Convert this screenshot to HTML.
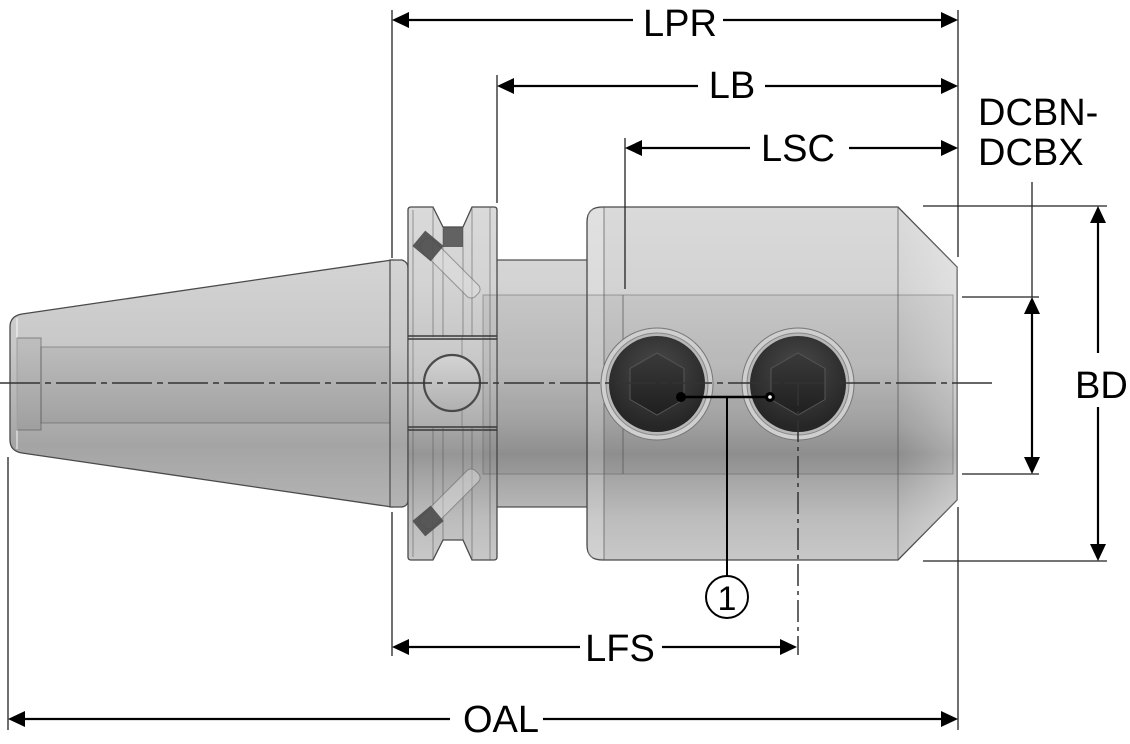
<!DOCTYPE html>
<html><head><meta charset="utf-8"><style>
html,body{margin:0;padding:0;background:#fff;}
svg{display:block;}
text{font-family:"Liberation Sans",sans-serif;fill:#000;}
</style></head><body>
<svg width="1130" height="744" viewBox="0 0 1130 744" xmlns="http://www.w3.org/2000/svg">
<defs>
<linearGradient id="gB" gradientUnits="userSpaceOnUse" x1="0" y1="207" x2="0" y2="560">
<stop offset="0" stop-color="#dadada"/><stop offset="0.22" stop-color="#d3d3d3"/>
<stop offset="0.45" stop-color="#c3c3c3"/><stop offset="0.62" stop-color="#a8a8a8"/>
<stop offset="0.7" stop-color="#969696"/><stop offset="0.77" stop-color="#a6a6a6"/>
<stop offset="0.88" stop-color="#bcbcbc"/><stop offset="1" stop-color="#c8c8c8"/>
</linearGradient>
<linearGradient id="gT" gradientUnits="userSpaceOnUse" x1="0" y1="260" x2="0" y2="507">
<stop offset="0" stop-color="#d4d4d4"/><stop offset="0.35" stop-color="#c8c8c8"/>
<stop offset="0.6" stop-color="#b2b2b2"/><stop offset="0.75" stop-color="#a4a4a4"/>
<stop offset="1" stop-color="#b4b4b4"/>
</linearGradient>
<linearGradient id="gCh" x1="0" y1="0" x2="1" y2="0">
<stop offset="0" stop-color="#fff" stop-opacity="0"/><stop offset="1" stop-color="#fff" stop-opacity="0.3"/>
</linearGradient>
<radialGradient id="gS" cx="0.5" cy="0.35" r="0.6">
<stop offset="0" stop-color="#4a4a4a"/><stop offset="1" stop-color="#262626"/>
</radialGradient>
<linearGradient id="gHex" x1="0" y1="0" x2="0" y2="1">
<stop offset="0" stop-color="#3a3a3a"/><stop offset="1" stop-color="#1f1f1f"/>
</linearGradient>
<linearGradient id="gHole" x1="0" y1="0" x2="0" y2="1">
<stop offset="0" stop-color="#d4d4d4"/><stop offset="1" stop-color="#b0b0b0"/>
</linearGradient>
</defs>

<!-- TAPER -->
<path d="M22,314 L392,260 L392,507 L22,453 Q10,451 10,440 L10,327 Q10,316 22,314 Z" fill="url(#gT)" stroke="#4a4a4a" stroke-width="1.3"/>
<line x1="17" y1="318" x2="17" y2="449" stroke="#fff" stroke-opacity="0.6" stroke-width="1.5"/>
<rect x="17" y="338" width="24" height="92" fill="#000" fill-opacity="0.06" stroke="#555" stroke-opacity="0.6" stroke-width="1"/>
<rect x="41" y="347" width="351" height="76" fill="#000" fill-opacity="0.06" stroke="#555" stroke-opacity="0.5" stroke-width="1"/>
<!-- taper lip -->
<path d="M390,260 L402,260 Q408,262 408,268 L408,500 Q408,506 402,507 L390,507 Z" fill="url(#gT)" stroke="#4a4a4a" stroke-width="1.2"/>

<!-- NECK -->
<rect x="495" y="260" width="100" height="247" fill="url(#gB)" stroke="#4a4a4a" stroke-width="1.2"/>

<!-- FLANGE -->
<path d="M408,210 Q408,207 411,207 L433,207 L443,227 L463,227 L472,207 L494,207 Q497,207 497,210 L497,557 Q497,560 494,560 L472,560 L463,540 L443,540 L433,560 L411,560 Q408,560 408,557 Z" fill="url(#gB)" stroke="#4a4a4a" stroke-width="1.3"/>
<g stroke="#555" stroke-opacity="0.55" stroke-width="1">
<line x1="413" y1="210" x2="413" y2="557"/>
<line x1="433" y1="207" x2="433" y2="337"/><line x1="433" y1="428" x2="433" y2="560"/>
<line x1="443" y1="227" x2="443" y2="337"/><line x1="443" y1="428" x2="443" y2="540"/>
<line x1="463" y1="227" x2="463" y2="337"/><line x1="463" y1="428" x2="463" y2="540"/>
<line x1="472" y1="207" x2="472" y2="337"/><line x1="472" y1="428" x2="472" y2="560"/>
<line x1="490" y1="207" x2="490" y2="560"/>
<line x1="462" y1="337" x2="462" y2="428"/>
</g>
<!-- slot -->
<rect x="408" y="337" width="89" height="91" fill="#fff" fill-opacity="0.08"/>
<g stroke="#3a3a3a" stroke-width="1.5">
<line x1="408" y1="336" x2="497" y2="336"/><line x1="408" y1="339" x2="497" y2="339"/>
<line x1="408" y1="427" x2="497" y2="427"/><line x1="408" y1="430" x2="497" y2="430"/>
</g>
<circle cx="452" cy="383" r="28" fill="url(#gHole)" stroke="#4a4a4a" stroke-width="2.2"/>
<!-- pins -->
<rect x="443" y="227" width="20" height="20" fill="#4e4e4e" fill-opacity="0.85"/>
<g transform="translate(450,268) rotate(45)">
<rect x="-38" y="-8" width="76" height="16" rx="6" fill="#e0e0e0" fill-opacity="0.45" stroke="#666" stroke-opacity="0.6"/>
</g>
<g transform="translate(428,246) rotate(40)">
<rect x="-12" y="-10" width="24" height="20" fill="#4a4a4a" fill-opacity="0.9"/>
</g>
<g transform="translate(450,499) rotate(-45)">
<rect x="-38" y="-8" width="76" height="16" rx="6" fill="#e0e0e0" fill-opacity="0.45" stroke="#666" stroke-opacity="0.6"/>
</g>
<g transform="translate(428,521) rotate(-40)">
<rect x="-12" y="-10" width="24" height="20" fill="#4a4a4a" fill-opacity="0.9"/>
</g>

<!-- BODY -->
<path d="M602,207 L898,207 L957,267 L957,500 L898,560 L602,560 Q587,560 587,545 L587,222 Q587,207 602,207 Z" fill="url(#gB)" stroke="#4a4a4a" stroke-width="1.3"/>
<rect x="588" y="209" width="16" height="349" fill="#fff" fill-opacity="0.2"/>
<line x1="604" y1="207" x2="604" y2="560" stroke="#555" stroke-opacity="0.7" stroke-width="1"/>
<path d="M898,207 L957,267 L957,500 L898,560 Z" fill="url(#gCh)"/>
<line x1="898" y1="207" x2="898" y2="560" stroke="#555" stroke-opacity="0.7" stroke-width="1"/>
<!-- bore band -->
<rect x="483" y="295" width="470" height="179" fill="#000" fill-opacity="0.05" stroke="#555" stroke-opacity="0.45" stroke-width="1"/>
<line x1="623" y1="295" x2="623" y2="474" stroke="#555" stroke-opacity="0.6" stroke-width="1.2"/>

<!-- SCREWS -->
<g>
<circle cx="657" cy="384" r="56" fill="#cfcfcf" stroke="#777" stroke-width="1"/>
<circle cx="657" cy="384" r="51" fill="#b8b8b8" stroke="#888" stroke-width="1"/>
<circle cx="657" cy="384" r="48" fill="url(#gS)"/>
<polygon points="657,353 684,368.5 684,399.5 657,415 630,399.5 630,368.5" fill="url(#gHex)" stroke="#555" stroke-width="1"/>
</g>
<g>
<circle cx="798" cy="384" r="56" fill="#cfcfcf" stroke="#777" stroke-width="1"/>
<circle cx="798" cy="384" r="51" fill="#b8b8b8" stroke="#888" stroke-width="1"/>
<circle cx="798" cy="384" r="48" fill="url(#gS)"/>
<polygon points="798,353 825,368.5 825,399.5 798,415 771,399.5 771,368.5" fill="url(#gHex)" stroke="#555" stroke-width="1"/>
</g>

<!-- CENTERLINE -->
<line x1="0" y1="383" x2="997" y2="383" stroke="#333" stroke-width="1.6" stroke-dasharray="40 5 6 5"/>
<line x1="798" y1="384" x2="798" y2="655" stroke="#333" stroke-width="1.5" stroke-dasharray="22 5 4 5"/>

<!-- LEADER 1 -->
<line x1="681" y1="397" x2="770" y2="397" stroke="#000" stroke-width="2.5"/>
<line x1="727" y1="397" x2="727" y2="576" stroke="#000" stroke-width="2"/>
<circle cx="681" cy="397" r="5" fill="#000"/>
<circle cx="770" cy="397" r="5" fill="#000"/><circle cx="770" cy="397" r="1.8" fill="#fff"/>
<circle cx="727" cy="597" r="21" fill="#fff" stroke="#000" stroke-width="2"/>
<text x="727" y="610" font-size="34" text-anchor="middle">1</text>

<!-- EXTENSION LINES -->
<g stroke="#222" stroke-width="1.3">
<line x1="392" y1="10" x2="392" y2="258"/><line x1="392" y1="512" x2="392" y2="656"/>
<line x1="497" y1="75" x2="497" y2="203"/>
<line x1="625" y1="138" x2="625" y2="289"/>
<line x1="958" y1="10" x2="958" y2="257"/><line x1="958" y1="507" x2="958" y2="730"/>
<line x1="8" y1="457" x2="8" y2="730"/>
<line x1="1032" y1="182" x2="1032" y2="297"/>
<line x1="923" y1="206" x2="1107" y2="206"/><line x1="923" y1="561" x2="1107" y2="561"/>
<line x1="962" y1="297" x2="1039" y2="297"/><line x1="962" y1="474" x2="1039" y2="474"/>
</g>

<!-- DIMENSION LINES -->
<g stroke="#000" stroke-width="2.2">
<line x1="400" y1="20" x2="633" y2="20"/><line x1="723" y1="20" x2="950" y2="20"/>
<line x1="505" y1="86" x2="698" y2="86"/><line x1="765" y1="86" x2="950" y2="86"/>
<line x1="633" y1="148" x2="750" y2="148"/><line x1="849" y1="148" x2="950" y2="148"/>
<line x1="400" y1="647" x2="580" y2="647"/><line x1="662" y1="647" x2="789" y2="647"/>
<line x1="16" y1="719" x2="450" y2="719"/><line x1="543" y1="719" x2="950" y2="719"/>
<line x1="1032" y1="305" x2="1032" y2="466"/>
<line x1="1098" y1="214" x2="1098" y2="353"/><line x1="1098" y1="407" x2="1098" y2="553"/>
</g>
<g fill="#000">
<polygon points="392,20 409,12 409,28"/><polygon points="958,20 941,12 941,28"/>
<polygon points="497,86 514,78 514,94"/><polygon points="958,86 941,78 941,94"/>
<polygon points="625,148 642,140 642,156"/><polygon points="958,148 941,140 941,156"/>
<polygon points="392,647 409,639 409,655"/><polygon points="797,647 780,639 780,655"/>
<polygon points="8,719 25,711 25,727"/><polygon points="958,719 941,711 941,727"/>
<polygon points="1032,297 1024,314 1040,314"/><polygon points="1032,474 1024,457 1040,457"/>
<polygon points="1098,206 1090,223 1106,223"/><polygon points="1098,561 1090,544 1106,544"/>
</g>

<!-- LABELS -->
<g font-size="38">
<text x="680" y="36" text-anchor="middle">LPR</text>
<text x="732" y="98" text-anchor="middle">LB</text>
<text x="798" y="161" text-anchor="middle">LSC</text>
<text x="620" y="661" text-anchor="middle">LFS</text>
<text x="501" y="732" text-anchor="middle">OAL</text>
<text x="978" y="125">DCBN-</text>
<text x="978" y="165">DCBX</text>
<text x="1075" y="398">BD</text>
</g>
</svg>
</body></html>
